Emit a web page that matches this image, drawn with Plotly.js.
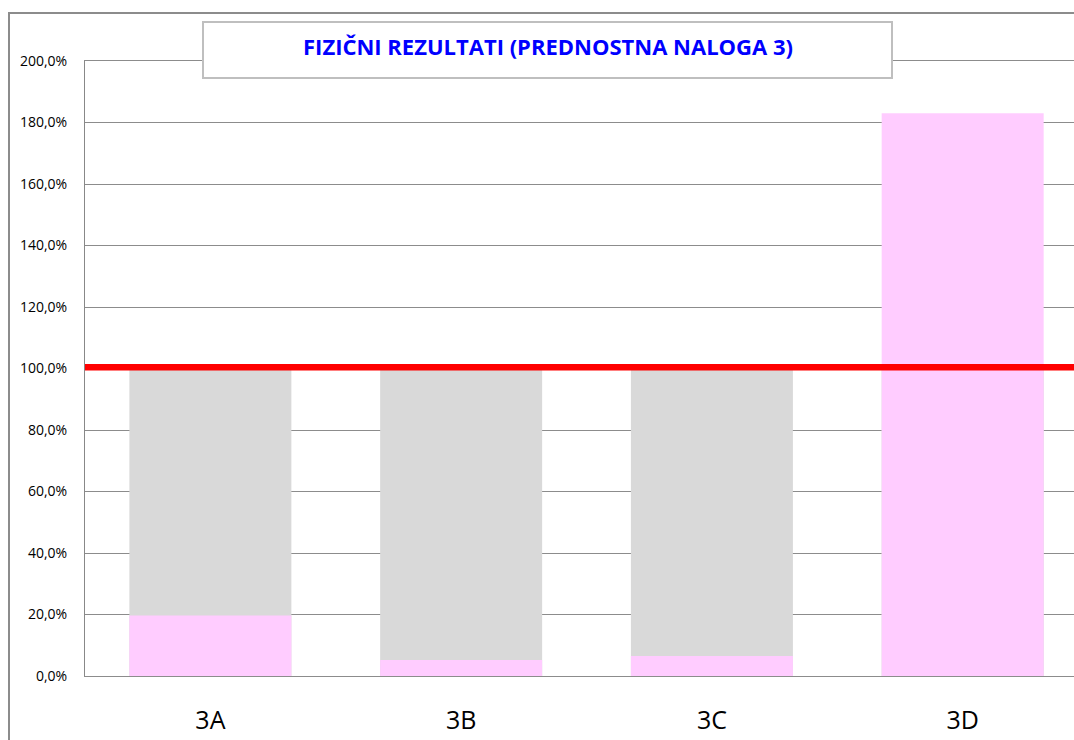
<!DOCTYPE html>
<html>
<head>
<meta charset="utf-8">
<script src="https://cdn.plot.ly/plotly-3.0.1.min.js"></script>
<style>html,body{margin:0;padding:0;background:#fff}#chart{width:1074px;height:740px}</style>
</head>
<body>
<div id="chart"></div>
<script>
const categories = ['3A', '3B', '3C', '3D'];
const planned = [1.0, 1.0, 1.0, 1.0];
const achieved = [0.197, 0.052, 0.065, 1.83];
const target = [1.004, 1.004];
const titleText = 'FIZIČNI REZULTATI (PREDNOSTNA NALOGA 3)';

const catIdx = categories.map((c, i) => i);

const traces = [
  {
    type: 'bar', x: catIdx, y: planned, width: 0.646,
    marker: {color: '#d9d9d9'}, name: 'Načrt', hoverinfo: 'y'
  },
  {
    type: 'bar', x: catIdx, y: achieved, width: 0.646,
    marker: {color: '#ffccff'}, name: 'Doseženo', hoverinfo: 'y'
  },
  {
    type: 'scatter', mode: 'lines', x: [-0.51, 3.6], y: target,
    line: {color: '#ff0000', width: 6.5}, name: 'Cilj', cliponaxis: false
  }
];

const layout = {
  width: 1074, height: 740,
  margin: {l: 85, r: 0, t: 61, b: 64},
  paper_bgcolor: '#ffffff', plot_bgcolor: '#ffffff',
  showlegend: false,
  barmode: 'overlay',
  separators: ',.',
  font: {family: '"Open Sans", sans-serif', color: '#000'},
  title: {
    text: '<b>' + titleText + '</b>',
    font: {family: '"Open Sans", sans-serif', size: 22, color: '#0000ff'},
    xref: 'container', yref: 'container', x: 548 / 1074, xanchor: 'center',
    y: 1 - 47 / 740, yanchor: 'middle'
  },
  xaxis: {
    range: [-0.5, 3.444],
    tickvals: catIdx, ticktext: categories,
    showgrid: false, zeroline: false,
    showline: true, linecolor: '#8c8c8c', linewidth: 1.2, mirror: true,
    ticks: '', ticklabelstandoff: 22,
    tickfont: {size: 25, family: '"Open Sans", sans-serif', color: '#000'}
  },
  yaxis: {
    range: [0, 2.0], dtick: 0.2, tick0: 0,
    tickformat: '.1%',
    showgrid: true, gridcolor: '#8c8c8c', gridwidth: 1,
    zeroline: false,
    showline: true, linecolor: '#888888', linewidth: 1.2,
    ticks: '', ticklabelstandoff: 14,
    tickfont: {size: 14, family: '"Open Sans", sans-serif', color: '#000'}
  },
  shapes: [
    {type: 'rect', xref: 'paper', yref: 'paper', layer: 'below',
     x0: (9 - 85) / 989, x1: 1.05, y0: -0.3, y1: (676 - 13) / 615,
     line: {color: '#8c8c8c', width: 2}, fillcolor: 'rgba(0,0,0,0)'},
    {type: 'rect', xref: 'paper', yref: 'paper', layer: 'above',
     x0: (203 - 85) / 989, x1: (892 - 85) / 989,
     y0: (676 - 78) / 615, y1: (676 - 22) / 615,
     line: {color: '#bfbfbf', width: 2}, fillcolor: '#ffffff'}
  ]
};

Plotly.newPlot('chart', traces, layout, {displayModeBar: false, responsive: false});
</script>
</body>
</html>
